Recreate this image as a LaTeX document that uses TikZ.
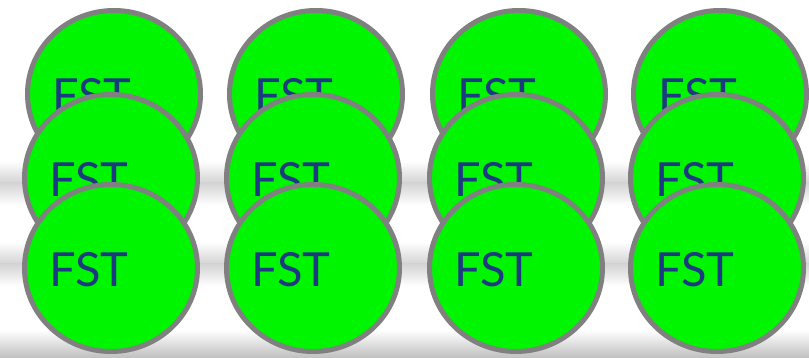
\documentclass[tikz,border=0pt]{standalone}
\usepackage{fontspec}
\setmainfont{Lato}
\usetikzlibrary{shapes.geometric}
\definecolor{fstgreen}{RGB}{0,245,0}
\definecolor{fstblue}{RGB}{28,58,128}
\definecolor{rimgray}{RGB}{128,128,128}
\tikzset{
  disc/.style={ellipse, draw=rimgray, line width=5pt, fill=fstgreen,
    minimum width=173pt, minimum height=167pt, inner sep=0pt},
  lbl/.style={anchor=base west, inner sep=0pt, text=fstblue,
    font=\fontsize{47}{47}\selectfont}
}
\begin{document}
\begin{tikzpicture}[x=1pt,y=-1pt]
\useasboundingbox (0,0) rectangle (809,358);
\fill[white] (0,0) rectangle (809,358);
% soft shadow bands
\foreach \yc in {183,264} {
  \shade[top color=white, bottom color=black!17] (0,\yc-22) rectangle (809,\yc);
  \shade[top color=black!17, bottom color=white] (0,\yc) rectangle (809,\yc+22);
}
\shade[top color=white, bottom color=black!25] (0,330) rectangle (809,358);
% rows
\foreach \r/\cy/\dx in {1/94/3,2/178/0,3/268/0} {
  \foreach \c/\cx in {1/111,2/313,3/516,4/717} {
    \node[disc] (d\r\c) at (\cx+\dx,\cy) {};
    \node[lbl] (t\r\c) at (\cx+\dx-62,\cy+19) {FST};
  }
}
\end{tikzpicture}
\end{document}
